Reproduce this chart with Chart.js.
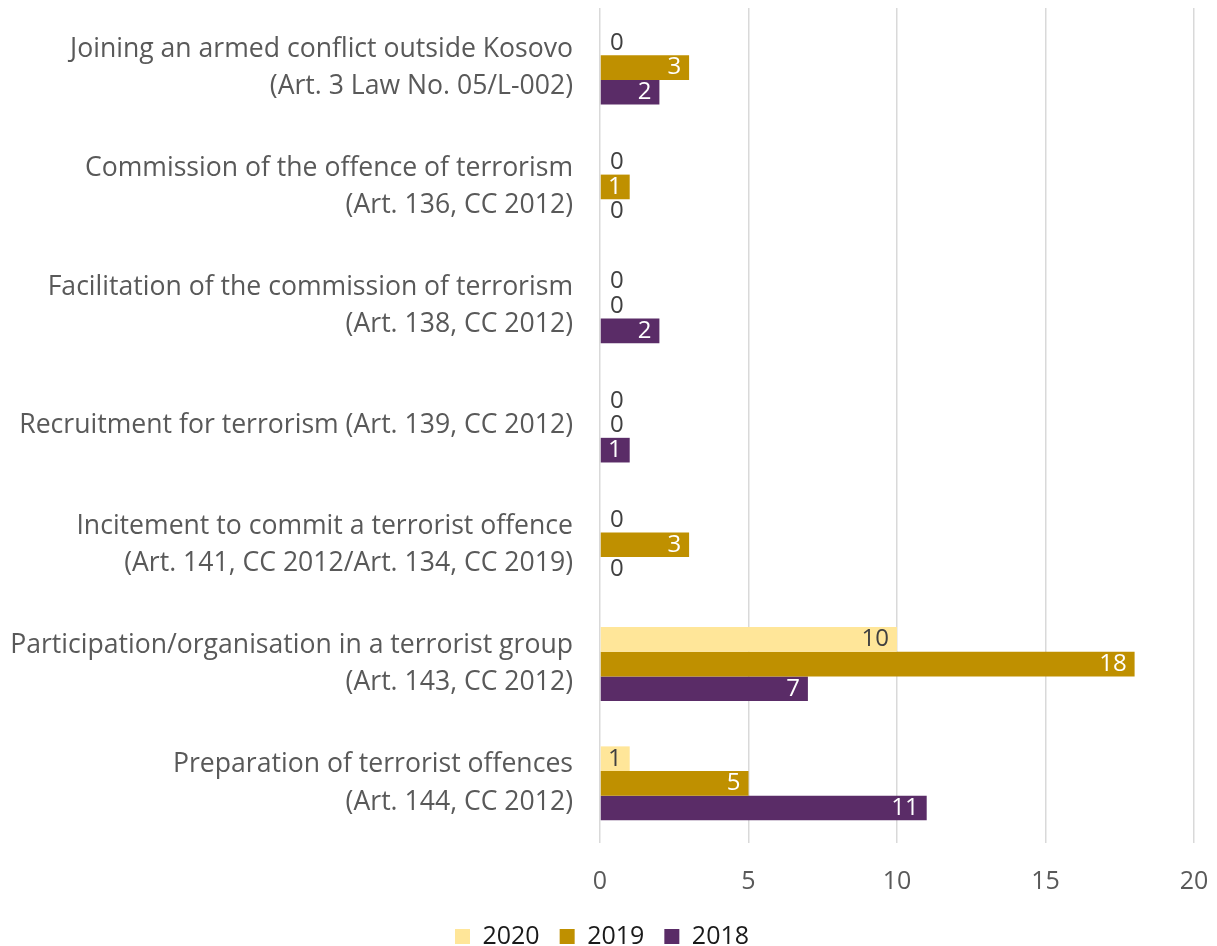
<!DOCTYPE html>
<html>
<head>
<meta charset="utf-8">
<script src="https://cdn.jsdelivr.net/npm/chart.js@4"></script>
<style>
  body { margin: 0; background: #fff; }
  #wrap { width: 1217px; height: 946px; }
</style>
</head>
<body>
<div id="wrap"><canvas id="offences"></canvas></div>
<script>
const categories = [
    ["Joining an armed conflict outside Kosovo", "(Art. 3 Law No. 05/L-002)"],
    ["Commission of the offence of terrorism", "(Art. 136, CC 2012)"],
    ["Facilitation of the commission of terrorism", "(Art. 138, CC 2012)"],
    "Recruitment for terrorism (Art. 139, CC 2012)",
    ["Incitement to commit a terrorist offence", "(Art. 141, CC 2012/Art. 134, CC 2019)"],
    ["Participation/organisation in a terrorist group", "(Art. 143, CC 2012)"],
    ["Preparation of terrorist offences", "(Art. 144, CC 2012)"]
];
const values2020 = [0, 0, 0, 0, 0, 10, 1];
const values2019 = [3, 1, 0, 0, 3, 18, 5];
const values2018 = [2, 0, 2, 1, 0, 7, 11];
const xTicks = [0, 5, 10, 15, 20];

const FONT = "'Open Sans', sans-serif";

// value labels: inside the end of the bar, zeros next to the axis
const barLabels = {
    id: 'barLabels',
    afterDatasetsDraw(chart) {
        const ctx = chart.ctx;
        ctx.save();
        ctx.font = "24px " + FONT;
        ctx.textBaseline = 'middle';
        chart.data.datasets.forEach(function(ds, i) {
            chart.getDatasetMeta(i).data.forEach(function(bar, j) {
                const v = ds.data[j];
                if (v === 0) {
                    ctx.fillStyle = '#404040';
                    ctx.textAlign = 'left';
                    ctx.fillText('0', bar.base + 10, bar.y);
                } else {
                    ctx.fillStyle = ds.labelColor;
                    ctx.textAlign = 'right';
                    ctx.fillText(String(v), bar.x - 8, bar.y);
                }
            });
        });
        ctx.restore();
    }
};

new Chart(document.getElementById("offences"), {
    type: 'bar',
    data: {
        labels: categories,
        datasets: [
            { label: "2020", backgroundColor: "#FFE699", data: values2020, labelColor: '#404040' },
            { label: "2019", backgroundColor: "#BF9000", data: values2019, labelColor: '#ffffff' },
            { label: "2018", backgroundColor: "#5A2C67", data: values2018, labelColor: '#ffffff' }
        ]
    },
    options: {
        indexAxis: 'y',
        responsive: true,
        maintainAspectRatio: false,
        animation: false,
        layout: { padding: { top: 8, right: 23, left: 10, bottom: -13 } },
        datasets: { bar: { barPercentage: 1, categoryPercentage: 0.62 } },
        scales: {
            x: {
                min: 0, max: 20,
                afterBuildTicks: function(scale) { scale.ticks = xTicks.map(v => ({ value: v })); },
                afterFit: function(scale) {
                    scale.height = 61;
                    scale.paddingRight = 0;
                    scale.paddingLeft = 0;
                },
                grid: { color: '#d9d9d9', lineWidth: 1.5, drawTicks: false },
                border: { display: false },
                ticks: { color: '#595959', font: { family: FONT, size: 25 }, padding: 24 }
            },
            y: {
                grid: { display: false, drawTicks: false },
                border: { display: false },
                afterFit: function(scale) {
                    scale.width = 590;
                    scale.paddingTop = 0;
                    scale.paddingBottom = 0;
                },
                ticks: { color: '#595959', font: { family: FONT, size: 26.6, lineHeight: 1.4 }, padding: 27 }
            }
        },
        plugins: {
            legend: {
                position: 'bottom',
                labels: {
                    color: '#1a1a1a',
                    font: { family: FONT, size: 25 },
                    boxWidth: 15, boxHeight: 15, padding: 20
                }
            },
            tooltip: { enabled: false }
        }
    },
    plugins: [barLabels]
});
</script>
</body>
</html>
